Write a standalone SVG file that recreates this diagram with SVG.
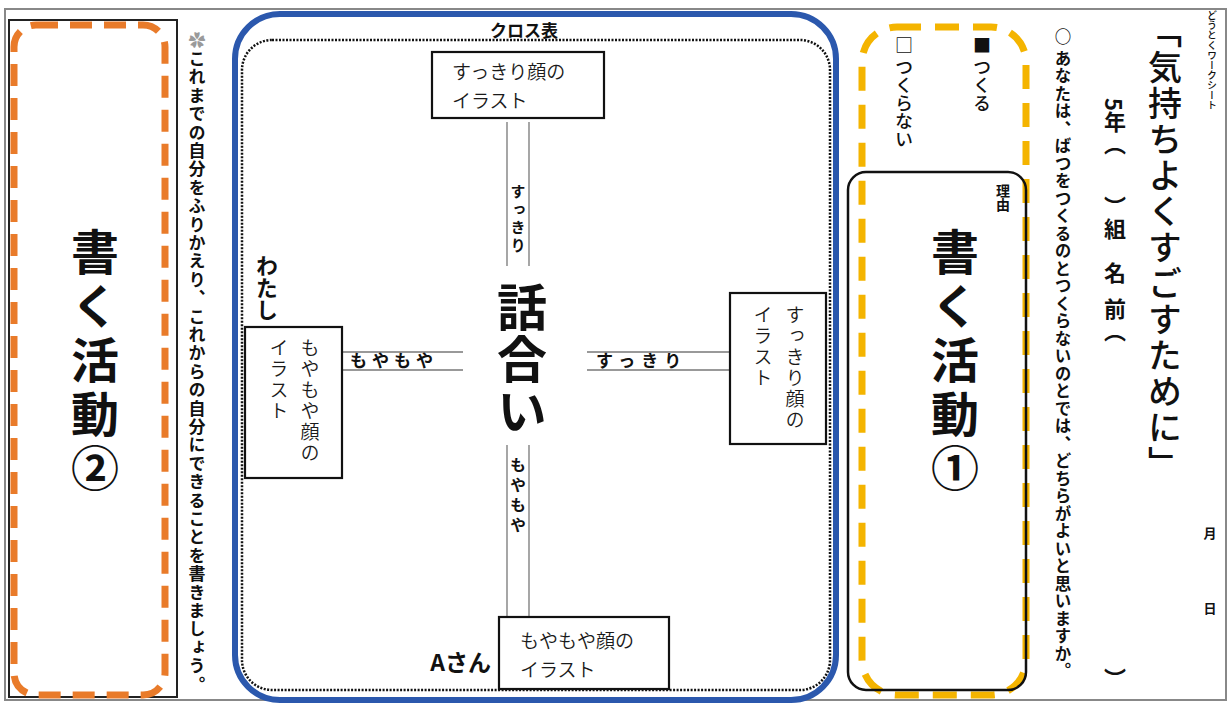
<svg xmlns="http://www.w3.org/2000/svg" width="1229" height="704" viewBox="0 0 1229 704">
<style>
.g{font-family:"Noto Sans CJK JP","Noto Sans",sans-serif;fill:#111}
.b{font-weight:700}
.v{writing-mode:vertical-rl}
.m{font-family:"Noto Sans CJK JP",sans-serif;font-weight:350;fill:#1a1a1a}
.box{fill:#fff;stroke:#111;stroke-width:2.2}
.dl{stroke:#777;stroke-width:1.3;fill:none}
</style>
<rect x="0" y="0" width="1229" height="704" fill="#fff"/>
<g id="frame">
<rect x="5" y="9" width="1221" height="691" fill="none" stroke="#888" stroke-width="2"/>
</g>
<g id="left-panel">
<rect x="9" y="20" width="168" height="677" fill="none" stroke="#222" stroke-width="2"/>
<rect x="14" y="25" width="151" height="670" rx="22" fill="none" stroke="#E97B2A" stroke-width="7" stroke-dasharray="22 12"/>
<text class="g b v" x="95" y="228" font-size="48" letter-spacing="6">書く活動②</text>
</g>
<g id="instruction-left">
<text class="g v" x="197" y="32" font-size="17" font-weight="700" style="fill:#9a9a9a">✿</text>
<text class="g b v" x="197" y="50" font-size="17" letter-spacing="1.4">これまでの自分をふりかえり、これからの自分にできることを書きましょう。</text>
</g>
<g id="cross-table">
<rect x="235" y="14" width="601" height="686" rx="45" fill="none" stroke="#2B58AD" stroke-width="6"/>
<rect x="242" y="40" width="588" height="650" rx="30" fill="none" stroke="#111" stroke-width="2.5" stroke-dasharray="2 1.5"/>
<text class="g b" x="524" y="37" font-size="17" text-anchor="middle">クロス表</text>
</g>
<g id="connectors">
<line class="dl" x1="507" y1="122" x2="507" y2="266"/>
<line class="dl" x1="529" y1="122" x2="529" y2="266"/>
<text class="g b v" x="518" y="184" font-size="15" letter-spacing="3">すっきり</text>
<line class="dl" x1="507" y1="445" x2="507" y2="617"/>
<line class="dl" x1="529" y1="445" x2="529" y2="617"/>
<text class="g b v" x="518" y="457" font-size="16" letter-spacing="4">もやもや</text>
<line class="dl" x1="343" y1="352" x2="463" y2="352"/>
<line class="dl" x1="343" y1="370" x2="463" y2="370"/>
<text class="g b" x="350" y="367" font-size="17" letter-spacing="5">もやもや</text>
<line class="dl" x1="587" y1="352" x2="729" y2="352"/>
<line class="dl" x1="587" y1="370" x2="729" y2="370"/>
<text class="g b" x="596" y="367" font-size="17" letter-spacing="6">すっきり</text>
</g>
<g id="center">
<text class="g b v" x="522" y="282" font-size="50" letter-spacing="2">話合い</text>
</g>
<g id="top-node">
<rect class="box" x="432" y="52" width="172" height="66"/>
<text class="m" x="452" y="79" font-size="19">すっきり顔の</text>
<text class="m" x="452" y="108" font-size="19">イラスト</text>
</g>
<g id="bottom-node">
<rect class="box" x="499" y="617" width="170" height="72"/>
<text class="m" x="520" y="648" font-size="19">もやもや顔の</text>
<text class="m" x="520" y="677" font-size="19">イラスト</text>
<text class="g b" x="491" y="671" font-size="23" text-anchor="end">Aさん</text>
</g>
<g id="left-node">
<rect class="box" x="245" y="327" width="97" height="151"/>
<text class="m v" x="310" y="338" font-size="19" letter-spacing="2">もやもや顔の</text>
<text class="m v" x="279" y="338" font-size="19" letter-spacing="2">イラスト</text>
<text class="g b v" x="267" y="255" font-size="22">わたし</text>
</g>
<g id="right-node">
<rect class="box" x="730" y="293" width="96" height="151"/>
<text class="m v" x="795" y="305" font-size="19" letter-spacing="2">すっきり顔の</text>
<text class="m v" x="763" y="305" font-size="19" letter-spacing="2">イラスト</text>
</g>
<g id="right-panel">
<rect x="862" y="27" width="164" height="668" rx="35" fill="none" stroke="#F4B400" stroke-width="7" stroke-dasharray="24 14"/>
<rect x="848" y="172" width="178" height="518" rx="18" fill="none" stroke="#111" stroke-width="2.5"/>
<text class="g v" x="982" y="36" font-size="18" font-weight="500">■ つくる</text>
<text class="g v" x="904" y="36" font-size="18" font-weight="500">□ つくらない</text>
<text class="g b v" x="1003" y="184" font-size="14">理由</text>
<text class="g b v" x="955" y="228" font-size="48" letter-spacing="6">書く活動①</text>
</g>
<g id="question">
<text class="g b v" x="1063" y="28" font-size="16.5" letter-spacing="1">○ あなたは、ばつをつくるのとつくらないのとでは、どちらがよいと思いますか。</text>
</g>
<g id="header">
<text class="g v" x="1212" y="10" font-size="10" font-weight="500">どうとくワークシート</text>
<text class="g v" x="1165" y="14" font-size="34" font-weight="500" letter-spacing="2">「気持ちよくすごすために」</text>
<text class="g b v" x="1115" y="98" font-size="22">5年（</text>
<text class="g b v" x="1115" y="196" font-size="22">）組</text>
<text class="g b v" x="1115" y="262" font-size="22">名</text>
<text class="g b v" x="1115" y="298" font-size="22">前（</text>
<text class="g b v" x="1115" y="668" font-size="22">）</text>
<text class="g b v" x="1210" y="527" font-size="13">月</text>
<text class="g b v" x="1210" y="602" font-size="13">日</text>
</g>
</svg>
